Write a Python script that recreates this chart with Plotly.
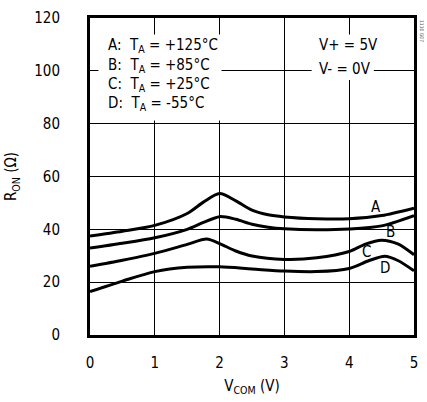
import plotly.graph_objects as go

# data
x_a = [0, 0.5, 1, 1.5, 1.75, 2, 2.25, 2.5, 2.75, 3, 3.5, 4, 4.5, 5]
r_a = [37.5, 39.3, 41.5, 46.0, 50.3, 53.6, 50.8, 47.3, 45.5, 44.7, 44.0, 44.0, 45.2, 48.0]

x_b = [0, 0.5, 1, 1.5, 1.75, 2, 2.25, 2.5, 2.75, 3, 3.5, 4, 4.5, 5]
r_b = [32.9, 34.7, 36.8, 40.0, 42.6, 44.8, 43.8, 41.9, 40.8, 40.2, 39.8, 40.1, 41.3, 45.2]

x_c = [0, 0.5, 1, 1.5, 1.8, 2, 2.25, 2.5, 3, 3.5, 4, 4.25, 4.5, 4.75, 5]
r_c = [26.0, 28.3, 30.9, 34.3, 36.3, 34.6, 31.8, 29.9, 28.6, 29.2, 31.6, 34.4, 35.9, 34.5, 30.4]

x_d = [0, 0.5, 1, 1.5, 2, 2.5, 3, 3.5, 4, 4.3, 4.55, 4.75, 5]
r_d = [16.4, 20.4, 24.0, 25.6, 25.8, 25.0, 24.2, 24.0, 25.2, 28.1, 29.8, 28.2, 24.3]

curve_labels = ["A", "B", "C", "D"]
label_x = [4.42, 4.64, 4.26, 4.56]
label_y = [48.6, 39.0, 31.3, 25.4]

legend_lines = ["A:  T<sub>A</sub> = +125°C", "B:  T<sub>A</sub> = +85°C",
                "C:  T<sub>A</sub> = +25°C", "D:  T<sub>A</sub> = -55°C"]
supply_lines = ["V+ = 5V", "V- = 0V"]

x_ticks = [0, 1, 2, 3, 4, 5]
y_ticks = [0, 20, 40, 60, 80, 100, 120]

FONT = "Liberation Sans Narrow, DejaVu Sans Condensed, Liberation Sans, Arial, sans-serif"

fig = go.Figure()
for xs, ys in [(x_a, r_a), (x_b, r_b), (x_c, r_c), (x_d, r_d)]:
    fig.add_trace(go.Scatter(x=xs, y=ys, mode="lines",
                             line=dict(color="black", width=3, shape="spline", smoothing=0.8),
                             showlegend=False, hoverinfo="skip"))

# white boxes hiding grid behind text
fig.add_shape(type="rect", xref="x", yref="y", x0=0.13, x1=2.03, y0=81.2, y1=113.8,
              fillcolor="white", line=dict(width=0), layer="above")
fig.add_shape(type="rect", xref="x", yref="y", x0=3.42, x1=4.38, y0=96.5, y1=113.8,
              fillcolor="white", line=dict(width=0), layer="above")

for i, t in enumerate(legend_lines):
    fig.add_annotation(x=0.25, y=109.5 - i * 7.3, xref="x", yref="y", text=t, showarrow=False,
                       xanchor="left", yanchor="middle", font=dict(family=FONT, size=15, color="black"))
for i, t in enumerate(supply_lines):
    fig.add_annotation(x=3.5, y=109.7 - i * 8.9, xref="x", yref="y", text=t, showarrow=False,
                       xanchor="left", yanchor="middle", font=dict(family=FONT, size=15, color="black"))

for lab, lx, ly in zip(curve_labels, label_x, label_y):
    fig.add_annotation(x=lx, y=ly, xref="x", yref="y", text=lab, showarrow=False,
                       xanchor="center", yanchor="middle", font=dict(family=FONT, size=15, color="black"))

fig.add_annotation(x=1.0, y=1.0, xref="paper", yref="paper", text="1110 G07", showarrow=False,
                   textangle=90, xanchor="left", yanchor="top", xshift=3,
                   font=dict(family=FONT, size=5, color="#555"))

axis_common = dict(showgrid=True, gridcolor="black", gridwidth=1, zeroline=False,
                   showline=True, linecolor="black", linewidth=3, mirror=True,
                   ticks="", tickfont=dict(family=FONT, size=15, color="black"))

fig.update_xaxes(range=[0, 5], tickvals=x_ticks, ticklabelstandoff=12,
                 title=dict(text="V<sub>COM</sub> (V)", font=dict(family=FONT, size=15, color="black"),
                            standoff=10),
                 **axis_common)
fig.update_yaxes(range=[0, 120], tickvals=y_ticks, ticklabelstandoff=24,
                 title=dict(text="R<sub>ON</sub> (Ω)", font=dict(family=FONT, size=15, color="black"),
                            standoff=14),
                 **axis_common)

fig.update_layout(width=427, height=402, margin=dict(l=90, r=9, t=12, b=62),
                  paper_bgcolor="white", plot_bgcolor="white",
                  font=dict(family=FONT, color="black"))

fig.write_html("out.html")
